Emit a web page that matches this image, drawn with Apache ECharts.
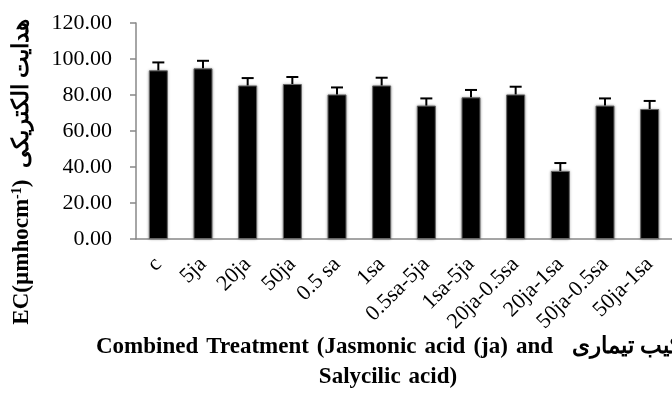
<!DOCTYPE html>
<html><head><meta charset="utf-8">
<script src="https://cdn.jsdelivr.net/npm/echarts@6/dist/echarts.min.js"></script>
<style>html,body{margin:0;padding:0;background:#fff}#c{width:672px;height:403px}</style>
</head><body><div id="c"></div>
<script>
const categories = ['c','5ja','20ja','50ja','0.5 sa','1sa','0.5sa-5ja','1sa-5ja','20ja-0.5sa','20ja-1sa','50ja-0.5sa','50ja-1sa'];
const values = [93.7, 94.8, 85.3, 86.1, 80.3, 85.3, 74.1, 78.7, 80.3, 37.8, 74.1, 72.2];
const errors = [4.4, 4.2, 4.1, 3.9, 3.9, 4.3, 4.0, 4.1, 4.3, 4.4, 4.0, 4.5];
const yTicks = [0, 20, 40, 60, 80, 100, 120];
const xTitle1 = ['Combined', 'Treatment', '(Jasmonic', 'acid', '(ja)', 'and'];
const xTitle2 = ['Salycilic', 'acid)'];

const F = '"Liberation Serif", "Times New Roman", "DejaVu Serif", serif';
const words = ws => ws.map((w, i) => i < ws.length - 1 ? '{w|' + w + '}' : '{e|' + w + '}').join('');
const wordRich = {
  w: {fontFamily: F, fontWeight: 'bold', fontSize: 23, fill: '#000', padding: [0, 8, 0, 0]},
  e: {fontFamily: F, fontWeight: 'bold', fontSize: 23, fill: '#000'}
};
const chart = echarts.init(document.getElementById('c'));
chart.setOption({
  animation: false,
  grid: {left: 136, right: 0, top: 23, bottom: 164},
  xAxis: {
    type: 'category', data: categories,
    axisLine: {lineStyle: {color: '#888', width: 1.5}},
    axisTick: {alignWithLabel: false, length: 6, lineStyle: {color: '#888', width: 1.5}},
    axisLabel: {rotate: 45, margin: 22, fontFamily: F, fontSize: 22, color: '#000', interval: 0}
  },
  yAxis: {
    type: 'value', min: yTicks[0], max: yTicks[yTicks.length - 1], interval: 20,
    splitLine: {show: false},
    axisLine: {show: true, lineStyle: {color: '#888', width: 1.5}},
    axisTick: {show: true, length: 6, lineStyle: {color: '#888', width: 1.5}},
    axisLabel: {margin: 24, fontFamily: F, fontSize: 22, color: '#000', formatter: v => v.toFixed(2)}
  },
  series: [{
    type: 'bar', data: values, barWidth: 19,
    itemStyle: {color: '#000', borderColor: '#666', borderWidth: 1, shadowBlur: 3, shadowColor: 'rgba(0,0,0,0.35)'}
  }, {
    type: 'custom',
    data: values.map((v, i) => [i, v, v + errors[i]]),
    renderItem: function (params, api) {
      const lo = api.coord([api.value(0), api.value(1)]);
      const hi = api.coord([api.value(0), api.value(2)]);
      const w = 6;
      return {type: 'group', children: [
        {type: 'line', shape: {x1: lo[0], y1: lo[1], x2: hi[0], y2: hi[1]}, style: {stroke: '#000', lineWidth: 2}},
        {type: 'line', shape: {x1: hi[0] - w, y1: hi[1], x2: hi[0] + w, y2: hi[1]}, style: {stroke: '#000', lineWidth: 2}}
      ]};
    },
    z: 5
  }],
  graphic: [
    {type: 'text', x: 22, y: 172, rotation: Math.PI / 2,
     style: {text: '{a|EC(µmhocm}{s|-1}{a|)  هدایت الکتریکی}', align: 'center', verticalAlign: 'middle',
       rich: {a: {fontFamily: F, fontWeight: 'bold', fontSize: 23, fill: '#000'},
              s: {fontFamily: F, fontWeight: 'bold', fontSize: 14, fill: '#000', verticalAlign: 'top', padding: [0,0,10,0]}}}},
    {type: 'text', x: 96, y: 347,
     style: {text: words(xTitle1), align: 'left', verticalAlign: 'middle', rich: wordRich}},
    {type: 'text', x: 572, y: 347,
     style: {text: 'ترکیب تیماری', align: 'left', verticalAlign: 'middle',
       fontFamily: F, fontWeight: 'bold', fontSize: 23, fill: '#000'}},
    {type: 'text', x: 388, y: 377,
     style: {text: words(xTitle2), align: 'center', verticalAlign: 'middle', rich: wordRich}}
  ]
});
</script></body></html>
